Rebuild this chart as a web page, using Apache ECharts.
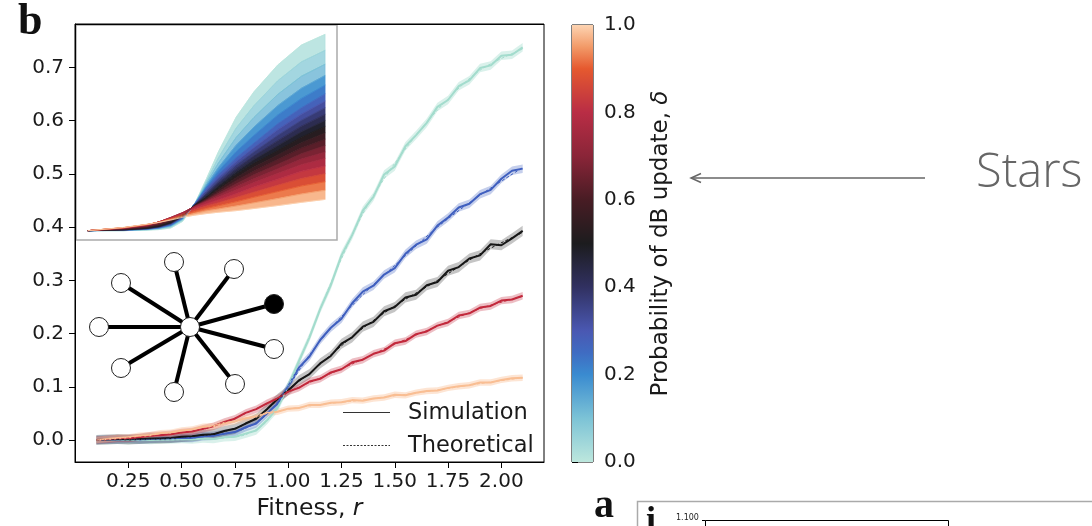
<!DOCTYPE html>
<html>
<head>
<meta charset="utf-8">
<script src="https://cdn.jsdelivr.net/npm/echarts@6/dist/echarts.min.js"></script>
<style>
  html, body { margin: 0; padding: 0; background: #fff; }
  #chart { width: 1092px; height: 526px; }
</style>
</head>
<body>
<div id="chart"></div>
<script>
// ---- simulated fixation probability on the star, five update mixes ----
const simR = [0.1, 0.15, 0.2, 0.25, 0.3, 0.35, 0.4, 0.45, 0.5, 0.55, 0.6, 0.65, 0.7, 0.75, 0.8, 0.85, 0.9, 0.95, 1.0, 1.05,
              1.1, 1.15, 1.2, 1.25, 1.3, 1.35, 1.4, 1.45, 1.5, 1.55, 1.6, 1.65, 1.7, 1.75, 1.8, 1.85, 1.9, 1.95, 2.0, 2.05, 2.1];
const simDelta000 = [0, 0, 0.001, 0, 0.001, 0, 0.001, 0.001, 0.002, 0.001, 0.003, 0.002, 0.005, 0.006, 0.012, 0.018, 0.037, 0.060, 0.102, 0.148,
                     0.193, 0.246, 0.291, 0.347, 0.385, 0.431, 0.457, 0.499, 0.514, 0.552, 0.573, 0.596, 0.626, 0.639, 0.665, 0.676, 0.699, 0.704, 0.722, 0.724, 0.738];
const simDelta025 = [0, 0.001, 0.001, 0.002, 0.001, 0.002, 0.003, 0.003, 0.004, 0.004, 0.007, 0.008, 0.012, 0.015, 0.024, 0.031, 0.050, 0.068, 0.101, 0.136,
                     0.157, 0.188, 0.211, 0.228, 0.257, 0.279, 0.290, 0.311, 0.323, 0.350, 0.367, 0.377, 0.403, 0.418, 0.437, 0.444, 0.462, 0.470, 0.491, 0.506, 0.510];
const simDelta050 = [0, 0.001, 0.002, 0.001, 0.002, 0.003, 0.003, 0.004, 0.006, 0.007, 0.010, 0.011, 0.017, 0.021, 0.031, 0.040, 0.058, 0.077, 0.093, 0.112,
                     0.124, 0.144, 0.158, 0.181, 0.193, 0.213, 0.222, 0.242, 0.250, 0.268, 0.273, 0.291, 0.297, 0.318, 0.325, 0.341, 0.347, 0.368, 0.366, 0.379, 0.393];
const simDelta075 = [0, 0.001, 0.003, 0.003, 0.005, 0.008, 0.009, 0.011, 0.014, 0.016, 0.021, 0.026, 0.034, 0.040, 0.051, 0.058, 0.069, 0.078, 0.091, 0.098,
                     0.110, 0.115, 0.127, 0.133, 0.146, 0.151, 0.162, 0.168, 0.182, 0.186, 0.199, 0.204, 0.215, 0.221, 0.234, 0.238, 0.249, 0.252, 0.262, 0.264, 0.271];
const simDelta100 = [0, 0.002, 0.004, 0.005, 0.008, 0.009, 0.013, 0.014, 0.018, 0.020, 0.025, 0.026, 0.032, 0.035, 0.041, 0.044, 0.051, 0.053, 0.059, 0.060,
                     0.066, 0.066, 0.070, 0.071, 0.075, 0.074, 0.078, 0.080, 0.085, 0.084, 0.089, 0.092, 0.093, 0.098, 0.101, 0.103, 0.108, 0.108, 0.113, 0.116, 0.117];
const mainDeltas = [0, 0.25, 0.5, 0.75, 1];
const simHalfWidth = [0.008, 0.008, 0.0095, 0.007, 0.006];

// ---- theoretical curves, δ from 0 to 1 in steps of 0.05 ----
const theoryR = [0.1, 0.4, 0.6, 0.7, 0.8, 0.9, 1.0, 1.1, 1.2, 1.35, 1.5, 1.7, 1.9, 2.1];
const theoryDeltas = [0, 0.05, 0.1, 0.15, 0.2, 0.25, 0.3, 0.35, 0.4, 0.45, 0.5, 0.55, 0.6, 0.65, 0.7, 0.75, 0.8, 0.85, 0.9, 0.95, 1];
const theoryCurves = [
  [0, 0.000, 0.002, 0.004, 0.010, 0.035, 0.100, 0.195, 0.295, 0.425, 0.520, 0.620, 0.695, 0.735],
  [0, 0.000, 0.003, 0.006, 0.013, 0.039, 0.100, 0.186, 0.272, 0.384, 0.468, 0.561, 0.632, 0.675],
  [0, 0.001, 0.004, 0.008, 0.016, 0.042, 0.100, 0.178, 0.253, 0.349, 0.424, 0.510, 0.578, 0.623],
  [0, 0.001, 0.005, 0.009, 0.018, 0.044, 0.100, 0.171, 0.236, 0.320, 0.388, 0.468, 0.533, 0.581],
  [0, 0.002, 0.005, 0.010, 0.020, 0.046, 0.100, 0.165, 0.223, 0.296, 0.357, 0.433, 0.495, 0.545],
  [0, 0.002, 0.006, 0.011, 0.022, 0.048, 0.100, 0.160, 0.210, 0.273, 0.328, 0.400, 0.460, 0.512],
  [0, 0.002, 0.007, 0.012, 0.024, 0.050, 0.099, 0.152, 0.199, 0.259, 0.311, 0.378, 0.436, 0.485],
  [0, 0.002, 0.007, 0.013, 0.025, 0.052, 0.098, 0.145, 0.189, 0.246, 0.295, 0.357, 0.413, 0.460],
  [0, 0.003, 0.008, 0.014, 0.027, 0.053, 0.097, 0.138, 0.179, 0.233, 0.280, 0.337, 0.391, 0.435],
  [0, 0.003, 0.008, 0.015, 0.028, 0.055, 0.096, 0.131, 0.169, 0.221, 0.266, 0.318, 0.370, 0.412],
  [0, 0.003, 0.009, 0.016, 0.030, 0.057, 0.095, 0.125, 0.160, 0.210, 0.252, 0.300, 0.350, 0.390],
  [0, 0.004, 0.011, 0.019, 0.034, 0.059, 0.094, 0.122, 0.153, 0.198, 0.238, 0.283, 0.329, 0.366],
  [0, 0.005, 0.013, 0.023, 0.038, 0.061, 0.093, 0.118, 0.146, 0.187, 0.223, 0.266, 0.309, 0.342],
  [0, 0.007, 0.016, 0.026, 0.042, 0.064, 0.092, 0.115, 0.139, 0.175, 0.209, 0.248, 0.288, 0.318],
  [0, 0.008, 0.018, 0.030, 0.046, 0.066, 0.091, 0.111, 0.132, 0.164, 0.194, 0.231, 0.268, 0.294],
  [0, 0.009, 0.020, 0.033, 0.050, 0.068, 0.090, 0.108, 0.125, 0.152, 0.180, 0.214, 0.247, 0.270],
  [0, 0.010, 0.021, 0.033, 0.048, 0.065, 0.084, 0.100, 0.115, 0.138, 0.163, 0.192, 0.222, 0.242],
  [0, 0.010, 0.022, 0.032, 0.046, 0.062, 0.078, 0.092, 0.104, 0.124, 0.144, 0.170, 0.195, 0.213],
  [0, 0.011, 0.023, 0.032, 0.044, 0.058, 0.071, 0.083, 0.093, 0.108, 0.125, 0.146, 0.167, 0.183],
  [0, 0.011, 0.023, 0.031, 0.042, 0.054, 0.064, 0.074, 0.081, 0.092, 0.104, 0.120, 0.137, 0.151],
  [0, 0.012, 0.024, 0.031, 0.040, 0.050, 0.058, 0.064, 0.069, 0.075, 0.083, 0.094, 0.106, 0.117]
];

// ---- ticks and legend ----
const xTicks = [0.25, 0.5, 0.75, 1.0, 1.25, 1.5, 1.75, 2.0];
const yTicks = [0, 0.1, 0.2, 0.3, 0.4, 0.5, 0.6, 0.7];
const cbarTicks = [0, 0.2, 0.4, 0.6, 0.8, 1.0];
const legendLabels = ['Simulation', 'Theoretical'];

// ---- colour scale for δ ----
const colorStops = [
  [0.00, '#bde7dd'], [0.10, '#7cc3d6'], [0.20, '#3a8bd0'], [0.25, '#3f6cc2'], [0.30, '#4a58b2'],
  [0.40, '#313161'], [0.50, '#1c1c1e'], [0.60, '#481c24'], [0.70, '#8a2538'], [0.80, '#b92d45'],
  [0.90, '#e5592f'], [0.95, '#f29a68'], [1.00, '#fdd4b2']
];
const mainColors = ['#a3dccd', '#3f5fbf', '#161616', '#c2283b', '#f9be93'];
const bandColors = ['rgba(163,220,205,0.4)', 'rgba(63,95,191,0.3)', 'rgba(22,22,22,0.25)', 'rgba(194,40,59,0.3)', 'rgba(249,190,147,0.4)'];

function hexToRgb(h) {
  return [parseInt(h.slice(1, 3), 16), parseInt(h.slice(3, 5), 16), parseInt(h.slice(5, 7), 16)];
}
function cmap(t) {
  for (let i = 1; i < colorStops.length; i++) {
    const t0 = colorStops[i - 1][0], t1 = colorStops[i][0];
    if (t <= t1 + 1e-9) {
      const f = (t - t0) / (t1 - t0);
      const a = hexToRgb(colorStops[i - 1][1]), b = hexToRgb(colorStops[i][1]);
      return 'rgb(' + a.map((v, j) => Math.round(v + (b[j] - v) * f)).join(',') + ')';
    }
  }
  return colorStops[colorStops.length - 1][1];
}
function bandPoints(api, xs, lower, upper) {
  const pts = [];
  for (let j = 0; j < xs.length; j++) pts.push(api.coord([xs[j], upper[j]]));
  for (let j = xs.length - 1; j >= 0; j--) pts.push(api.coord([xs[j], lower[j]]));
  return pts;
}

const simSeriesData = [simDelta000, simDelta025, simDelta050, simDelta075, simDelta100];
const FONT = 'DejaVu Sans';
const series = [];

// inset: filled fan between neighbouring δ curves
series.push({
  type: 'custom', xAxisIndex: 1, yAxisIndex: 1, silent: true, z: 2,
  data: theoryDeltas.slice(1).map(() => [1, 0.1]),
  renderItem(params, api) {
    const k = params.dataIndex;
    const mid = (theoryDeltas[k] + theoryDeltas[k + 1]) / 2;
    const c = cmap(mid);
    return {
      type: 'polygon',
      shape: { points: bandPoints(api, theoryR, theoryCurves[k + 1], theoryCurves[k]) },
      style: { fill: c, stroke: c, lineWidth: 0.6, opacity: mid < 0.15 ? 0.8 : 1 }
    };
  }
});
// inset: the individual δ curves
theoryCurves.forEach((row, k) => {
  series.push({
    type: 'line', xAxisIndex: 1, yAxisIndex: 1, silent: true, z: 3,
    data: theoryR.map((r, j) => [r, row[j]]),
    symbol: 'none',
    lineStyle: { color: cmap(theoryDeltas[k]), width: 0.8 }
  });
});

// main: spread of the simulations
series.push({
  type: 'custom', xAxisIndex: 0, yAxisIndex: 0, silent: true, z: 2,
  data: mainDeltas.map(() => [1, 0.1]),
  renderItem(params, api) {
    const i = params.dataIndex;
    const s = simSeriesData[i], hw = simHalfWidth[i];
    return {
      type: 'polygon',
      shape: { points: bandPoints(api, simR, s.map(v => v - hw), s.map(v => v + hw)) },
      style: { fill: bandColors[i] }
    };
  }
});
// main: simulation means
simSeriesData.forEach((s, i) => {
  series.push({
    type: 'line', xAxisIndex: 0, yAxisIndex: 0, silent: true, z: 4,
    data: simR.map((r, j) => [r, s[j]]),
    symbol: 'none',
    lineStyle: { color: mainColors[i], width: 2 }
  });
});
// main: theoretical curves for the same δ values
mainDeltas.forEach((d, i) => {
  const row = theoryCurves[theoryDeltas.indexOf(d)];
  series.push({
    type: 'line', xAxisIndex: 0, yAxisIndex: 0, silent: true, z: 5,
    data: theoryR.map((r, j) => [r, row[j]]),
    symbol: 'none', smooth: 0.3,
    lineStyle: { color: mainColors[i], width: 1, type: [3, 2] }
  });
});

// colour bar
series.push({
  type: 'custom', xAxisIndex: 2, yAxisIndex: 2, silent: true,
  data: [[0.5, 0.5]],
  renderItem(params, api) {
    const p0 = api.coord([0, 0]), p1 = api.coord([1, 1]);
    return {
      type: 'rect',
      shape: { x: p0[0], y: p1[1], width: p1[0] - p0[0], height: p0[1] - p1[1] },
      style: { fill: new echarts.graphic.LinearGradient(0, 1, 0, 0,
        colorStops.map(s => ({ offset: s[0], color: s[1] }))) }
    };
  }
});

// star graph drawn beside the curves
const starCenter = [190, 327];
const starLeaves = [[-16, -65, 0], [44, -58, 0], [84, -23, 1], [84, 22, 0], [45, 57, 0],
                    [-16, 65, 0], [-69, 41, 0], [-91, 0, 0], [-69, -44, 0]];
const starGraphic = [];
starLeaves.forEach(l => starGraphic.push({
  type: 'line', z: 20,
  shape: { x1: starCenter[0], y1: starCenter[1], x2: starCenter[0] + l[0], y2: starCenter[1] + l[1] },
  style: { stroke: '#000', lineWidth: 4 }
}));
starLeaves.forEach(l => starGraphic.push({
  type: 'circle', z: 21,
  shape: { cx: starCenter[0] + l[0], cy: starCenter[1] + l[1], r: 9.5 },
  style: { fill: l[2] ? '#000' : '#fff', stroke: '#222', lineWidth: 1 }
}));
starGraphic.push({ type: 'circle', z: 21, shape: { cx: starCenter[0], cy: starCenter[1], r: 9.5 },
  style: { fill: '#fff', stroke: '#222', lineWidth: 1 } });

// legend: solid line for the simulations, dashed for the theory
const legendGraphic = [
  { type: 'line', z: 30, shape: { x1: 343, y1: 412.5, x2: 390, y2: 412.5 }, style: { stroke: '#333', lineWidth: 1 } },
  { type: 'line', z: 30, shape: { x1: 343, y1: 445.5, x2: 390, y2: 445.5 }, style: { stroke: '#333', lineWidth: 1, lineDash: [2, 1.5] } },
  { type: 'text', z: 30, x: 408, y: 413, style: { text: legendLabels[0], font: '22.5px "DejaVu Sans"', fill: '#1a1a1a', verticalAlign: 'middle' } },
  { type: 'text', z: 30, x: 408, y: 446, style: { text: legendLabels[1], font: '22.5px "DejaVu Sans"', fill: '#1a1a1a', verticalAlign: 'middle' } }
];

const option = {
  animation: false,
  backgroundColor: '#fff',
  textStyle: { fontFamily: FONT },
  grid: [
    { left: 75, top: 24, width: 469, height: 438, show: true, borderColor: '#000', borderWidth: 1, containLabel: false },
    { left: 76, top: 25, width: 261, height: 215, show: true, backgroundColor: '#fff', borderColor: '#aaa', borderWidth: 1.5, containLabel: false },
    { left: 572, top: 25, width: 21, height: 437, show: true, borderColor: '#000', borderWidth: 1, containLabel: false }
  ],
  xAxis: [
    {
      gridIndex: 0, type: 'value', min: 0, max: 2.2,
      axisLine: { show: true, onZero: false, lineStyle: { color: '#000', width: 1 } },
      axisTick: { show: true, customValues: xTicks, length: 6, lineStyle: { color: '#000' } },
      axisLabel: { customValues: xTicks, formatter: v => v.toFixed(2), fontSize: 20, color: '#1a1a1a', margin: 10, fontFamily: FONT },
      splitLine: { show: false },
      name: 'Fitness, {i|r}', nameLocation: 'middle', nameGap: 35,
      nameTextStyle: { fontSize: 23.5, color: '#1a1a1a', fontFamily: FONT,
        rich: { i: { fontStyle: 'italic', fontSize: 23.5, color: '#1a1a1a', fontFamily: FONT } } }
    },
    { gridIndex: 1, type: 'value', min: 0, max: 2.2, show: false },
    { gridIndex: 2, type: 'value', min: 0, max: 1, show: false }
  ],
  yAxis: [
    {
      gridIndex: 0, type: 'value', min: -0.0413, max: 0.7818,
      axisLine: { show: true, onZero: false, lineStyle: { color: '#000', width: 1 } },
      axisTick: { show: true, customValues: yTicks, length: 6, lineStyle: { color: '#000' } },
      axisLabel: { customValues: yTicks, formatter: v => v.toFixed(1), fontSize: 20, color: '#1a1a1a', margin: 11, fontFamily: FONT },
      splitLine: { show: false }
    },
    { gridIndex: 1, type: 'value', min: -0.035, max: 0.77, show: false },
    {
      gridIndex: 2, type: 'value', min: 0, max: 1, position: 'right',
      axisLine: { show: false },
      axisTick: { show: true, customValues: cbarTicks, length: 6, lineStyle: { color: '#000' } },
      axisLabel: { customValues: cbarTicks, formatter: v => v.toFixed(1), fontSize: 20, color: '#1a1a1a', margin: 11, fontFamily: FONT },
      splitLine: { show: false },
      name: 'Probability of dB update, {i|δ}', nameLocation: 'middle', nameRotate: 90, nameGap: 57,
      nameTextStyle: { fontSize: 23, color: '#1a1a1a', fontFamily: FONT,
        rich: { i: { fontStyle: 'italic', fontSize: 23, color: '#1a1a1a', fontFamily: FONT } } }
    }
  ],
  series: series,
  graphic: [
    // left and top spines of the main axes, kept above the inset
    { type: 'line', z: 30, shape: { x1: 75.5, y1: 24, x2: 75.5, y2: 462 }, style: { stroke: '#000', lineWidth: 1 } },
    { type: 'line', z: 30, shape: { x1: 75, y1: 24.5, x2: 544, y2: 24.5 }, style: { stroke: '#000', lineWidth: 1 } },
    ...starGraphic,
    ...legendGraphic,
    { type: 'text', left: 18, top: 1, z: 30, style: { text: 'b', font: 'bold 44px "Liberation Serif"', fill: '#111' } },
    // pointer to the star panel
    { type: 'line', z: 30, shape: { x1: 691, y1: 178, x2: 925, y2: 178 }, style: { stroke: '#666', lineWidth: 1.5 } },
    { type: 'polyline', z: 30, shape: { points: [[701, 173.5], [691, 178], [701, 182.5]] }, style: { stroke: '#666', lineWidth: 1.5, fill: null } },
    { type: 'text', left: 976, top: 150, z: 30, style: { text: 'Stars', font: '300 47px "Open Sans"', fill: '#666' } },
    // panel a, cut at the bottom edge
    { type: 'text', left: 594, top: 487, z: 30, style: { text: 'a', font: 'bold 40px "Liberation Serif"', fill: '#111' } },
    { type: 'polyline', z: 30, shape: { points: [[637.5, 526], [637.5, 501.5], [1092, 501.5]] }, style: { stroke: '#aaa', lineWidth: 1.5, fill: null } },
    { type: 'text', left: 646, top: 504, z: 30, style: { text: 'i', font: 'bold 36px "Liberation Serif"', fill: '#111' } },
    { type: 'text', left: 676, top: 514, z: 30, style: { text: '1.100', font: '8px "DejaVu Sans"', fill: '#222' } },
    { type: 'polyline', z: 30, shape: { points: [[705.5, 526], [705.5, 520.5], [948.5, 520.5], [948.5, 526]] }, style: { stroke: '#000', lineWidth: 1, fill: null } },
    { type: 'line', z: 30, shape: { x1: 702, y1: 520.5, x2: 705.5, y2: 520.5 }, style: { stroke: '#000', lineWidth: 1 } }
  ]
};

const chart = echarts.init(document.getElementById('chart'));
chart.setOption(option);
</script>
</body>
</html>
